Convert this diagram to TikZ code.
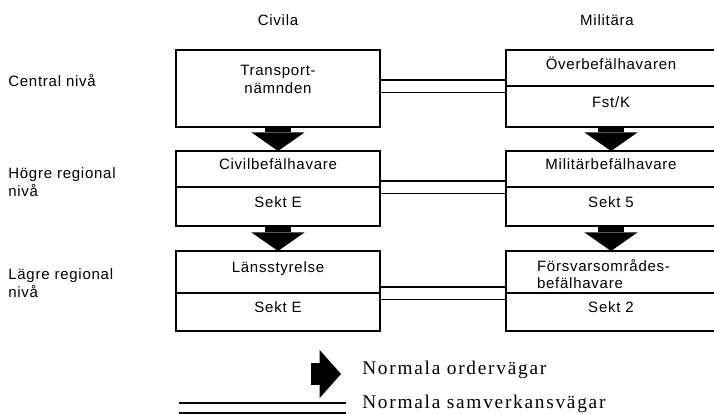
\documentclass[tikz,border=0pt]{standalone}
\usepackage{fontspec}
\newfontfamily\dsans[LetterSpace=5]{Liberation Sans}
\newfontfamily\dserif[LetterSpace=9]{Liberation Serif}
\usetikzlibrary{arrows.meta,positioning}

\begin{document}
\begin{tikzpicture}[x=0.75pt,y=-0.75pt,
    every node/.style={font=\dsans\fontsize{11.25}{13}\selectfont},
    cell/.style={draw,line width=1.2pt,outer sep=0pt,text depth=7pt,minimum height=#1},
    civ/.style={cell=#1,minimum width=153pt},
    mil/.style={cell=#1,minimum width=157.5pt},
    order/.style={line width=20pt,-{Triangle[width=40pt,length=14pt,line width=0pt]}},
    samv/.style={double,line width=1.1pt,double distance=8.25pt,shorten <=0.6pt,shorten >=0.6pt},
    lbl/.style={anchor=west,inner sep=0pt,align=left},
    legend/.style={anchor=west,inner sep=0pt,font=\dserif\fontsize{14.5}{16}\selectfont}]
    \useasboundingbox (0,0) rectangle (714,414);

    % column headings and levels
    \node (civila)   at (278,20) {Civila};
    \node (militara) at (607,20) {Militära};
    \node[lbl] (central) at (8,81)  {Central nivå};
    \node[lbl] (hogre)   at (8,182) {Högre regional\\nivå};
    \node[lbl] (lagre)   at (8,283) {Lägre regional\\nivå};

    % civil side
    \node[civ=57.75pt,text depth=13.5pt,align=center] (trans) at (278,88.5) {Transport-\\nämnden};
    \node[civ=27pt]                        (civbef) at (278,169) {Civilbefälhavare};
    \node[civ=29.25pt,below=0pt of civbef] (sekte1)              {Sekt E};
    \node[civ=31.5pt]                      (lans)   at (278,272) {Länsstyrelse};
    \node[civ=28.5pt,below=0pt of lans]    (sekte2)              {Sekt E};

    % military side
    \node[mil=27pt]                       (obf)   at (611,68)  {Överbefälhavaren};
    \node[mil=30.75pt,below=0pt of obf]   (fst)                {Fst/K};
    \node[mil=27pt]                       (mbf)   at (611,169) {Militärbefälhavare};
    \node[mil=29.25pt,below=0pt of mbf]   (sekt5)              {Sekt 5};
    \node[mil=31.5pt,text depth=10pt,text width=111pt,align=left,inner xsep=0pt]
                                          (fo)    at (611,272) {Försvarsområdes-\\befälhavare};
    \node[mil=28.5pt,below=0pt of fo]     (sekt2)              {Sekt 2};

    % order paths
    \draw[order] (trans)  -- (civbef);
    \draw[order] (sekte1) -- (lans);
    \draw[order] (fst)    -- (mbf);
    \draw[order] (sekt5)  -- (fo);

    % cooperation paths
    \draw[samv] (trans.east |- obf.south) -- (obf.south west);
    \draw[samv] (civbef.south east) -- (mbf.south west);
    \draw[samv] (lans.south east)   -- (fo.south west);

    % legend
    \node[legend] (ordtxt)  at (362,370) {Normala ordervägar};
    \node[legend] (samvtxt) at (362,404) {Normala samverkansvägar};
    \coordinate (ordstart)  at (311,374);
    \coordinate (samvstart) at (178,408);
    \draw[order,line width=16.5pt,-{Triangle[width=36pt,length=16pt,line width=0pt]},shorten >=15.75pt]
        (ordstart) -- (ordstart -| ordtxt.west);
    \draw[samv,double distance=6.4pt,shorten >=12pt] (samvstart) -- (samvstart -| samvtxt.west);
\end{tikzpicture}
\end{document}
